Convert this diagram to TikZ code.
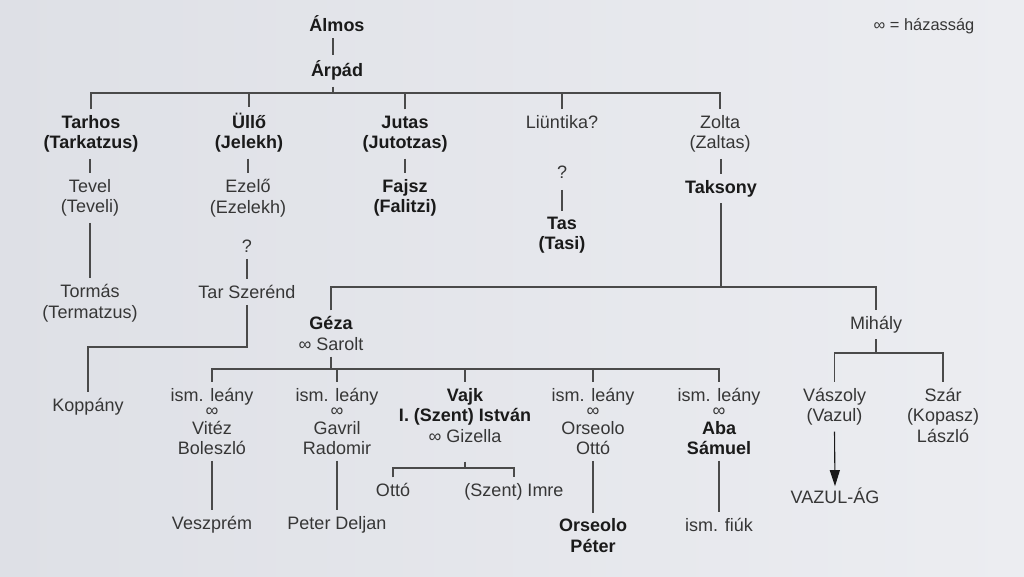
\documentclass[tikz,border=0pt]{standalone}
\usepackage{fontspec}
\setmainfont{Liberation Sans}
\usetikzlibrary{arrows.meta}
\definecolor{bgl}{HTML}{DEE0E6}
\definecolor{bgr}{HTML}{ECEDF1}
\definecolor{txt}{HTML}{363636}
\definecolor{txtb}{HTML}{1A1A1A}
\definecolor{ln}{HTML}{4A4A4A}
\newcommand{\bt}[1]{\textbf{\color{txtb}#1}}
\tikzset{
  pp/.style={align=center, inner xsep=2pt, inner ysep=6pt, text=txt,
             font=\fontsize{18}{20.5}\selectfont},
  bp/.style={pp, text=txtb, font=\bfseries\fontsize{18}{20.5}\selectfont},
  link/.style={draw=ln, line width=1.1pt},
  arr/.style={draw=txtb, line width=1.1pt, -{Triangle[length=16pt,width=10pt]}},
}
\begin{document}
\begin{tikzpicture}[x=1pt,y=-1pt]
\shade[left color=bgl, right color=bgr] (0,0) rectangle (1024,576);
\useasboundingbox (0,0) rectangle (1024,576);
% nodes
\node[bp] (almos) at (337,24) {Álmos};
\node[bp] (arpad) at (337,70.7) {Árpád};
\node[bp] (tarhos) at (91,134) {Tarhos\\(Tarkatzus)};
\node[bp] (ullo) at (249,132.6) {Üllő\\(Jelekh)};
\node[bp] (jutas) at (405,134) {Jutas\\(Jutotzas)};
\node[pp] (liun) at (562,122) {Liüntika?};
\node[pp] (zolta) at (720,134) {Zolta\\(Zaltas)};
\node[pp] (tevel) at (90,198) {Tevel\\(Teveli)};
\node[pp] (ezelo) at (248,198) {Ezelő\\(Ezelekh)};
\node[bp] (fajsz) at (405,198) {Fajsz\\(Falitzi)};
\node[pp] (q1) at (247,246.5) {?};
\node[pp] (szer) at (247,292) {Tar Szerénd};
\node[pp] (tormas) at (90,303) {Tormás\\(Termatzus)};
\node[pp] (q2) at (562,172.5) {?};
\node[bp] (tas) at (562,235.4) {Tas\\(Tasi)};
\node[bp] (taksony) at (721,188.6) {Taksony};
\node[pp] (geza) at (331,333.4) {\bt{Géza}\\∞ Sarolt};
\node[pp] (mihaly) at (876,324.4) {Mihály};
\node[pp] (koppany) at (88,407) {Koppány};
\node[pp] (ism1) at (212,421.3) {ism. leány\\[-5.5pt]∞\\[-2.5pt]Vitéz\\Boleszló};
\node[pp] (ism2) at (337,421.3) {ism. leány\\[-5.5pt]∞\\[-2.5pt]Gavril\\Radomir};
\node[pp] (vajk) at (465,415.3) {\bt{Vajk}\\\bt{I. (Szent) István}\\∞ Gizella};
\node[pp] (ism3) at (593,421.3) {ism. leány\\[-5.5pt]∞\\[-2.5pt]Orseolo\\Ottó};
\node[pp] (ism4) at (719,421.3) {ism. leány\\[-5.5pt]∞\\[-2.5pt]\bt{Aba}\\\bt{Sámuel}};
\node[pp] (otto) at (393,490.2) {Ottó};
\node[pp] (imre) at (514,492) {(Szent) Imre};
\node[pp] (veszprem) at (212,524.7) {Veszprém};
\node[pp] (deljan) at (337,524.7) {Peter Deljan};
\node[bp] (peter) at (593,535.6) {Orseolo\\Péter};
\node[pp] (fiuk) at (719,525) {ism. fiúk};
\node[pp] (vaszoly) at (834.5,406.7) {Vászoly\\(Vazul)};
\node[pp] (szar) at (943,415) {Szár\\(Kopasz)\\László};
\node[pp, inner ysep=2pt] (vazulag) at (835,496.2) {VAZUL-ÁG};
\node[pp, font=\fontsize{16.4}{18}\selectfont] (legend) at (924,26) {∞ = házasság};
% junctions
\coordinate (abar) at (333,93);
\coordinate (kbar) at (247,347);
\coordinate (tbar) at (721,287);
\coordinate (gbar) at (331,369);
\coordinate (vbar) at (465,468);
\coordinate (mbar) at (876,353);
% connectors
\draw[link] (almos.south -| abar) -- (arpad.north -| abar);
\draw[link] (arpad.south -| abar) -- (abar);
\draw[link] (tarhos.north) |- (abar) -| (zolta.north);
\draw[link] (ullo.north) -- (ullo.north |- abar);
\draw[link] (jutas.north) -- (jutas.north |- abar);
\draw[link] (liun.north) -- (liun.north |- abar);
\draw[link] (tevel.north |- tarhos.south) -- (tevel.north);
\draw[link] (tevel.south) -- (tormas.north);
\draw[link] (ezelo.north |- ullo.south) -- (ezelo.north);
\draw[link] (fajsz.north |- jutas.south) -- (fajsz.north);
\draw[link] (taksony.north |- zolta.south) -- (taksony.north);
\draw[link] (q1.south) -- (szer.north);
\draw[link, shorten <=5pt] (q2.south) -- (tas.north);
\draw[link] (szer.south) -- (szer.south |- kbar) -| (koppany.north);
\draw[link] (taksony.south) -- (tbar);
\draw[link] (geza.north) |- (tbar) -| (mihaly.north);
\draw[link] (geza.south) -- (gbar);
\draw[link] (ism1.north) |- (gbar) -| (ism4.north);
\draw[link] (ism2.north) -- (ism2.north |- gbar);
\draw[link] (vajk.north) -- (vajk.north |- gbar);
\draw[link] (ism3.north) -- (ism3.north |- gbar);
\draw[link, shorten <=13pt] (vajk.south) -- (vbar);
\draw[link] (otto.north) |- (vbar) -| (imre.north);
\draw[link] (ism1.south) -- (veszprem.north);
\draw[link] (ism2.south) -- (deljan.north);
\draw[link] (ism3.south) -- (peter.north);
\draw[link] (ism4.south) -- (fiuk.north);
\draw[link] (mihaly.south) -- (mbar);
\draw[link] (vaszoly.north) |- (mbar) -| (szar.north);
\draw[arr] (vaszoly.south) -- (vazulag.north);
\end{tikzpicture}
\end{document}
